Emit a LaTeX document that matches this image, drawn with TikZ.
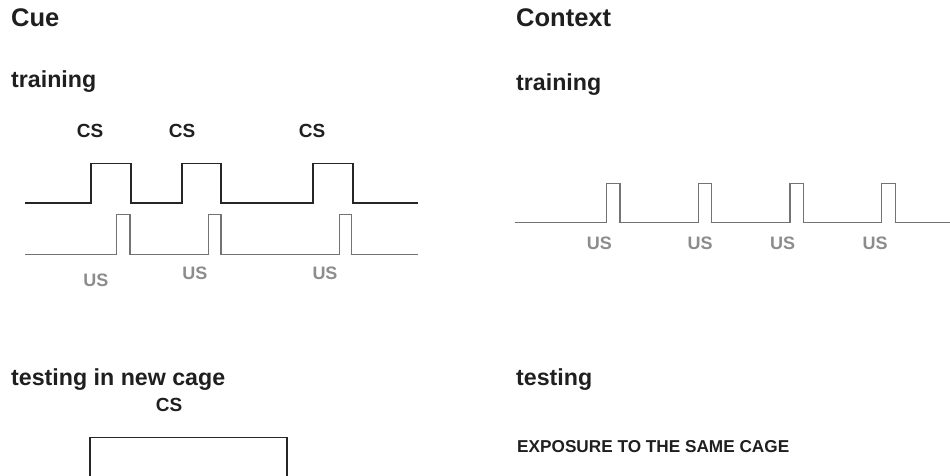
\documentclass[tikz,border=0pt]{standalone}
\usepackage{fontspec}
\setmainfont{Liberation Sans}
\begin{document}
\begin{tikzpicture}[x=1pt,y=-1pt,
  title/.style={anchor=base west,inner sep=0pt,font=\fontsize{25.5}{29}\selectfont\bfseries,text=black!88},
  phase/.style={anchor=base west,inner sep=0pt,font=\fontsize{23.2}{27}\selectfont\bfseries,text=black!88},
  cslabel/.style={anchor=base,inner sep=0pt,font=\fontsize{19}{22}\selectfont\bfseries,text=black!88},
  uslabel/.style={anchor=base,inner sep=0pt,font=\fontsize{18}{21}\selectfont\bfseries,text=black!45},
  note/.style={anchor=base west,inner sep=0pt,font=\fontsize{17.2}{20}\selectfont\bfseries,text=black!88},
  cstrace/.style={draw=black!85,line width=1.6pt},
  ustrace/.style={draw=black!55,line width=1.5pt}]
\useasboundingbox (0,0) rectangle (950,475);

% headings
\node[title] (cue) at (11,26.7) {Cue};
\node[title] (ctx) at (516,26.7) {Context};
\node[phase] (trainA) at (11,87) {training};
\node[phase] (trainB) at (516,90.7) {training};
\node[phase] (testA) at (11,385) {testing in new cage};
\node[phase] (testB) at (516,385) {testing};

% cue training: CS trace
\draw[cstrace] (25,202.7) -- (91,202.7) -- (91,163.3) -- (130.7,163.3) -- (130.7,202.7)
  -- (182,202.7) -- (182,163.3) -- (221,163.3) -- (221,202.7)
  -- (312.7,202.7) -- (312.7,163.3) -- (352.7,163.3) -- (352.7,202.7) -- (418,202.7);
\node[cslabel] (cs1) at (90,137) {CS};
\node[cslabel] (cs2) at (182,137) {CS};
\node[cslabel] (cs3) at (312,137) {CS};

% cue training: US trace
\draw[ustrace] (25,254.3) -- (116.7,254.3) -- (116.7,214.3) -- (130,214.3) -- (130,254.3)
  -- (208.3,254.3) -- (208.3,214.3) -- (221,214.3) -- (221,254.3)
  -- (339.3,254.3) -- (339.3,214.3) -- (351.7,214.3) -- (351.7,254.3) -- (418,254.3);
\node[uslabel] (us1) at (95.8,286.7) {US};
\node[uslabel] (us2) at (195,279.5) {US};
\node[uslabel] (us3) at (325,279.5) {US};

% context training: US trace
\draw[ustrace] (515,222.7) -- (606.7,222.7) -- (606.7,183.3) -- (620,183.3) -- (620,222.7)
  -- (698.3,222.7) -- (698.3,183.3) -- (711.7,183.3) -- (711.7,222.7)
  -- (790,222.7) -- (790,183.3) -- (803.3,183.3) -- (803.3,222.7)
  -- (881.7,222.7) -- (881.7,183.3) -- (895.7,183.3) -- (895.7,222.7) -- (950,222.7);
\node[uslabel] (cu1) at (599.3,249.3) {US};
\node[uslabel] (cu2) at (700,249.3) {US};
\node[uslabel] (cu3) at (782.7,249.3) {US};
\node[uslabel] (cu4) at (875,249.3) {US};

% cue testing: sustained CS
\node[cslabel] (cs4) at (169,411.7) {CS};
\draw[cstrace] (90,480) -- (90,437.3) -- (286.7,437.3) -- (286.7,480);

% context testing
\node[note] (expo) at (517,452.7) {EXPOSURE TO THE SAME CAGE};
\end{tikzpicture}
\end{document}
